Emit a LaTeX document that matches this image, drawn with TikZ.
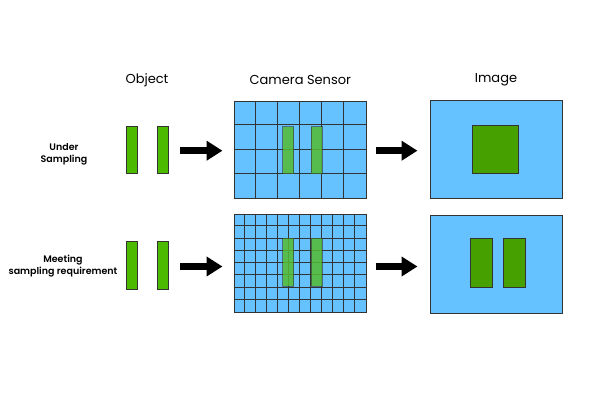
\documentclass[tikz,border=0pt]{standalone}
\usepackage{fontspec}
\setmainfont{Poppins}
\newfontfamily\labelfont{Poppins SemiBold}
\usepackage{xcolor}
\usepackage{tikz}
\usetikzlibrary{arrows.meta, positioning, calc}

\definecolor{skyblue}{HTML}{66C2FF}
\definecolor{bargreen}{HTML}{4CBB00}
\definecolor{ghostgreen}{HTML}{55BB30}
\definecolor{darkgreen}{HTML}{45A000}
\definecolor{edgegray}{HTML}{333333}

\begin{document}
\begin{tikzpicture}[
    x=1pt, y=-1pt,
    bar/.style={rectangle, draw=edgegray, fill=bargreen, line width=0.8pt, inner sep=0pt, minimum width=11pt, minimum height=47pt},
    ghost/.style={rectangle, draw=edgegray, draw opacity=0.6, fill=ghostgreen, fill opacity=0.85, line width=0.8pt, inner sep=0pt, minimum width=11pt, minimum height=47pt},
    frame/.style={rectangle, draw=edgegray, fill=skyblue, line width=1pt, inner sep=0pt, minimum width=132pt, minimum height=97pt},
    pixel/.style={rectangle, draw=edgegray, fill=darkgreen, line width=0.8pt, inner sep=0pt},
    header/.style={font=\fontsize{13}{15}\selectfont},
    rowlabel/.style={font=\fontsize{9.5}{12.5}\selectfont\labelfont, align=center},
    bigarrow/.style={line width=7pt, -{Triangle[length=16pt, width=19pt]}}
]
\useasboundingbox (0,0) rectangle (600,400);

\node[header] (objhead) at (147,80) {Object};
\node[header] (senshead) at (300.3,80) {Camera Sensor};
\node[header] (imghead) at (496,80) {Image};

\node[rowlabel] (under) at (64,154.5) {Under\\Sampling};
\node[rowlabel] (meet) at (63,266) {Meeting\\sampling requirement};

% object
\node[bar] (objA) at (132,150) {};
\node[bar] (objB) at (162.5,150) {};
\node[bar, minimum height=48pt] (objC) at (132,265.5) {};
\node[bar, minimum height=48pt] (objD) at (162.5,265.5) {};

% camera sensor
\node[frame] (sensA) at (300,149.7) {};
\node[frame, minimum height=98pt] (sensB) at (300,263.2) {};
\foreach \i in {1,...,5}
    \draw[edgegray, line width=1pt] ($(sensA.north west)+(22*\i,0)$) -- ($(sensA.south west)+(22*\i,0)$);
\foreach \j in {1,...,3}
    \draw[edgegray, line width=1pt] ($(sensA.north west)+(0,24.25*\j)$) -- ($(sensA.north east)+(0,24.25*\j)$);
\foreach \i in {1,...,11}
    \draw[edgegray, line width=1pt] ($(sensB.north west)+(11*\i,0)$) -- ($(sensB.south west)+(11*\i,0)$);
\foreach \j in {1,...,7}
    \draw[edgegray, line width=1pt] ($(sensB.north west)+(0,12.25*\j)$) -- ($(sensB.north east)+(0,12.25*\j)$);
\node[ghost] (sensbarA) at (288,150) {};
\node[ghost] (sensbarB) at (316.5,150) {};
\node[ghost, minimum height=48pt] (sensbarC) at (288,262.2) {};
\node[ghost, minimum height=48pt] (sensbarD) at (316.5,262.2) {};

% image
\node[frame, minimum height=98pt] (imgA) at (496,149.5) {};
\node[frame, minimum height=98pt] (imgB) at (496,264.2) {};
\node[pixel, minimum width=46pt, minimum height=48pt] (imgsq) at (495.7,149.2) {};
\node[pixel, minimum width=22pt, minimum height=49pt] (imgbarA) at (481.2,263.3) {};
\node[pixel, minimum width=22pt, minimum height=49pt] (imgbarB) at (514.3,263.3) {};

\draw[bigarrow, shorten <=12pt, shorten >=11pt] (objB.east |- 0,150.7) -- (sensA.west |- 0,150.7);
\draw[bigarrow, shorten <=12pt, shorten >=11pt] (objD.east |- 0,266.5) -- (sensB.west |- 0,266.5);
\draw[bigarrow, shorten <=9pt, shorten >=12pt] (sensA.east |- 0,150.7) -- (imgA.west |- 0,150.7);
\draw[bigarrow, shorten <=9pt, shorten >=12pt] (sensB.east |- 0,266.5) -- (imgB.west |- 0,266.5);
\end{tikzpicture}
\end{document}
